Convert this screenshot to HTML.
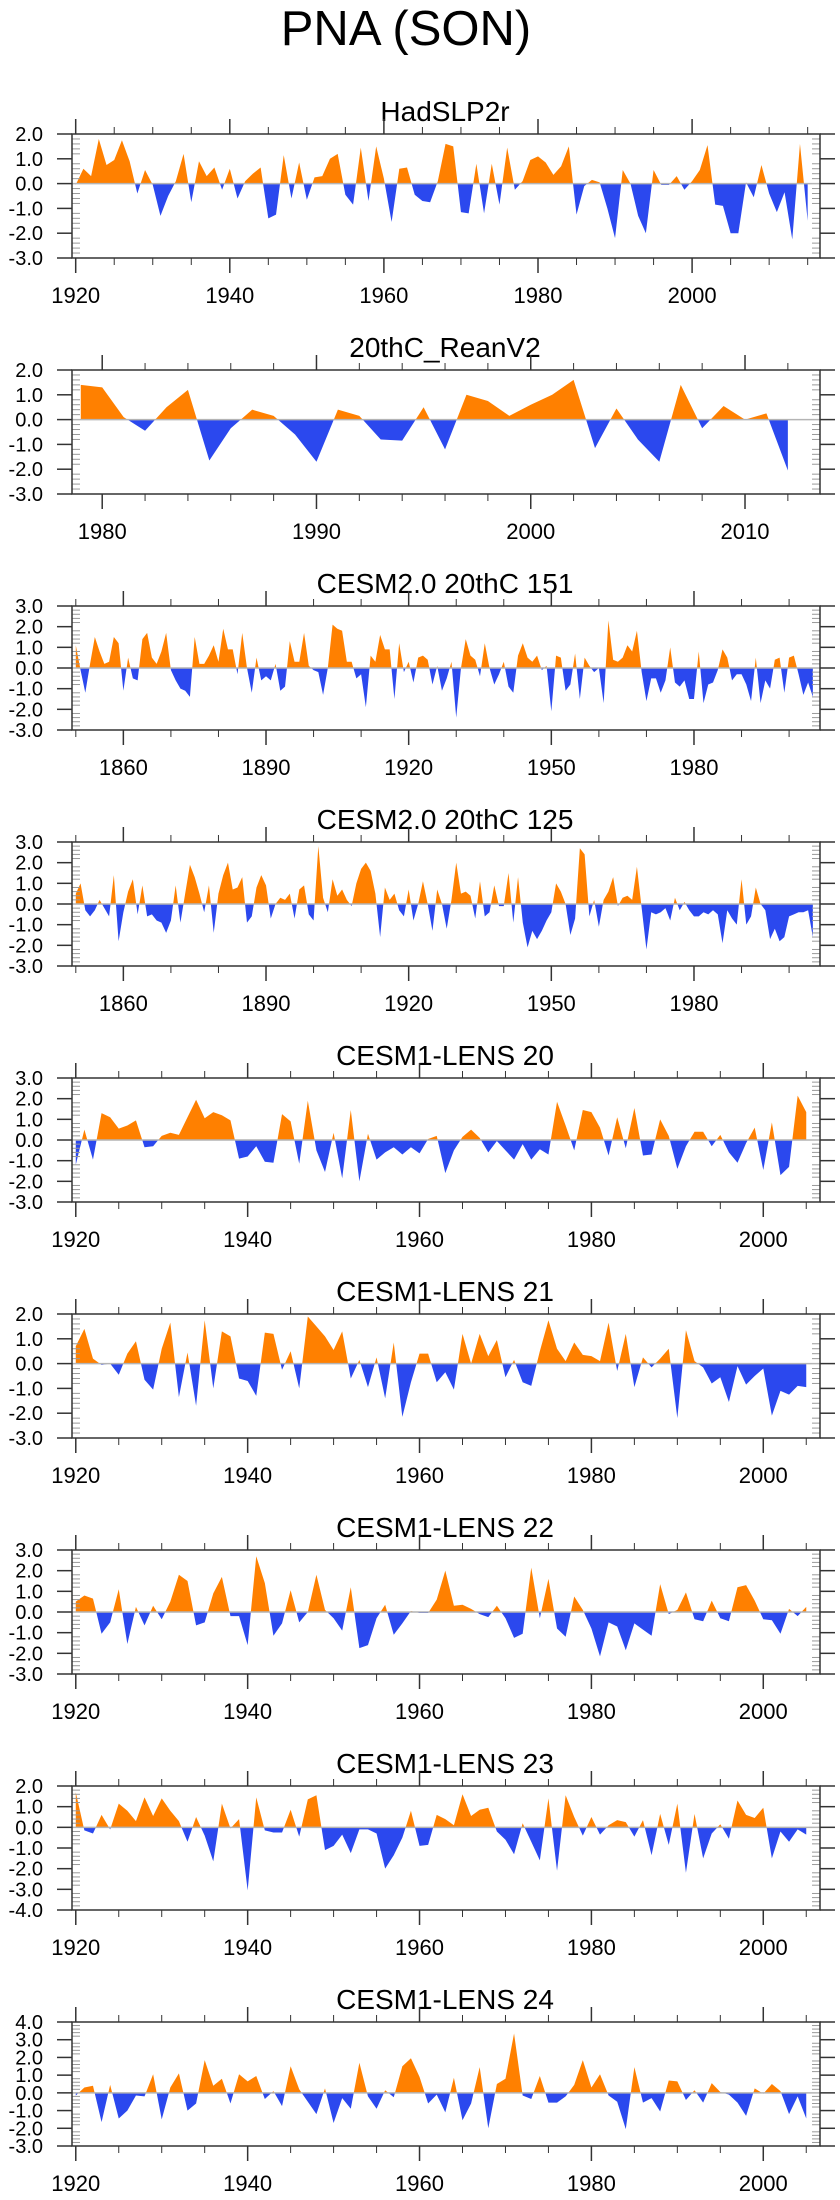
<!DOCTYPE html>
<html>
<head>
<meta charset="utf-8">
<style>
html,body{margin:0;padding:0;background:#fff;}
svg{display:block;font-family:"Liberation Sans",Arial,sans-serif;}
</style>
</head>
<body>
<svg id="fig" width="840" height="2200" viewBox="0 0 840 2200">
<text x="406" y="45" font-size="49" text-anchor="middle" fill="#000">PNA (SON)</text>
</svg>
<script>
// ---------- data ----------
const titles = ["HadSLP2r","20thC_ReanV2","CESM2.0 20thC 151","CESM2.0 20thC 125","CESM1-LENS 20","CESM1-LENS 21","CESM1-LENS 22","CESM1-LENS 23","CESM1-LENS 24"];
const startYears = [1920,1979,1850,1850,1920,1920,1920,1920,1920];
const yMax = [2,2,3,3,3,2,3,2,4];
const yMin = [-3,-3,-3,-3,-3,-3,-3,-4,-3];

const hadslp = [-0.05,0.6,0.3,1.8,0.75,0.95,1.75,0.9,-0.4,0.55,
-0.05,-1.3,-0.5,0.1,1.2,-0.75,0.9,0.3,0.65,-0.25,
0.6,-0.6,0.1,0.4,0.65,-1.4,-1.25,1.15,-0.6,0.85,
-0.65,0.25,0.3,1.0,1.2,-0.45,-0.85,1.45,-0.7,1.5,
0.2,-1.55,0.6,0.65,-0.45,-0.7,-0.75,0.1,1.6,1.5,
-1.15,-1.2,0.8,-1.2,0.8,-0.85,1.45,-0.25,0.1,0.95,
1.1,0.85,0.35,0.7,1.5,-1.25,-0.1,0.15,0.05,-1.0,
-2.2,0.55,0.0,-1.3,-2.0,0.55,-0.05,-0.05,0.3,-0.25,
0.1,0.55,1.55,-0.85,-0.9,-2.0,-2.0,0.05,-0.55,0.75,
-0.4,-1.15,-0.35,-2.25,1.6,-1.5];
const rean = [1.4,1.3,0.1,-0.45,0.5,1.2,-1.65,-0.35,0.4,0.15,
-0.6,-1.7,0.4,0.15,-0.8,-0.85,0.5,-1.2,1.0,0.75,
0.15,0.6,1.0,1.6,-1.15,0.45,-0.8,-1.7,1.4,-0.35,
0.55,0.0,0.25,-2.05];
const cesm151 = [1.1,-0.1,-1.2,0.2,1.5,0.8,0.2,0.3,1.5,1.2,
-1.1,0.5,-0.5,-0.6,1.4,1.7,0.5,0.2,0.8,1.7,
-0.1,-0.6,-1.0,-1.1,-1.4,1.5,0.2,0.2,0.6,1.1,
0.3,1.9,0.9,0.9,-0.3,1.7,0.0,-1.2,0.5,-0.6,
-0.4,-0.6,0.2,-1.1,-0.9,1.3,0.3,0.3,1.7,0.1,
-0.1,-0.2,-1.3,0.0,2.1,1.9,1.8,0.3,0.3,-0.5,
-0.3,-1.9,0.6,0.3,1.6,0.9,0.9,-1.5,1.2,-0.2,
0.3,-0.7,0.5,0.6,0.4,-0.8,0.1,-1.1,-0.5,0.3,
-2.4,0.0,1.4,0.6,0.4,-0.4,1.2,0.0,-0.8,-0.3,
0.3,-0.9,-1.2,0.6,1.2,0.5,0.3,0.6,-0.1,0.1,
-2.1,0.6,0.5,-1.1,-0.8,0.7,-1.5,0.5,0.1,-0.2,
0.0,-1.7,2.3,0.4,0.3,0.5,1.1,0.8,1.8,-0.2,
-1.6,-0.5,-0.5,-1.2,-0.6,1.0,-0.7,-0.9,-0.6,-1.5,
-1.5,0.8,-1.7,-0.8,-0.7,-0.1,0.9,0.5,-0.6,-0.3,
-0.3,-0.8,-1.6,0.5,-1.7,-0.6,-1.0,0.4,0.5,-1.2,
0.5,0.6,-0.3,-1.3,-0.7,-1.4];
const cesm125 = [0.5,1.0,-0.3,-0.6,-0.3,0.2,-0.2,-0.6,1.4,-1.8,
-0.4,0.6,1.2,-0.5,0.9,-0.6,-0.5,-0.8,-0.9,-1.4,
-0.8,0.9,-0.9,0.5,1.9,1.3,0.5,-0.4,0.9,-1.4,
0.5,1.4,2.0,0.7,0.8,1.3,-0.9,-0.6,0.8,1.4,
0.9,-0.7,0.0,0.3,0.2,0.5,-0.7,0.7,0.9,-0.5,
-0.8,2.8,0.3,-0.4,1.2,0.4,0.7,0.2,-0.1,1.0,
1.7,2.0,1.6,0.5,-1.6,0.8,0.2,0.5,-0.3,-0.6,
0.7,-0.8,0.0,1.1,0.0,-1.3,0.7,0.0,-1.2,0.2,
2.0,0.5,0.6,0.4,-0.7,1.1,-0.6,-0.4,0.9,-0.1,
-0.1,1.5,-0.9,1.3,-0.9,-2.1,-1.3,-1.7,-1.3,-0.8,
-0.4,1.0,0.6,0.0,-1.5,-0.7,2.7,2.4,-0.6,0.2,
-1.1,0.2,0.6,1.3,-0.1,0.3,0.4,0.2,1.8,-0.2,
-2.2,-0.4,-0.5,-0.4,-0.2,-0.8,0.3,-0.3,0.1,-0.3,
-0.6,-0.6,-0.4,-0.5,-0.3,-0.5,-1.9,-0.3,-0.7,-1.0,
1.2,-1.0,-0.6,0.8,0.0,-0.3,-1.7,-1.2,-1.8,-1.6,
-0.6,-0.5,-0.4,-0.4,-0.3,-1.6];
const lens20 = [-1.2,0.5,-0.95,1.3,1.1,0.55,0.7,0.95,-0.35,-0.3,
0.2,0.35,0.25,1.1,1.95,1.05,1.35,1.2,0.95,-0.9,
-0.8,-0.3,-1.05,-1.1,1.25,0.9,-1.15,1.9,-0.5,-1.55,
0.35,-1.85,1.45,-2.0,0.3,-0.95,-0.6,-0.35,-0.7,-0.35,
-0.65,0.05,0.2,-1.6,-0.5,0.15,0.5,0.1,-0.6,-0.05,
-0.5,-0.95,-0.2,-0.95,-0.45,-0.7,1.85,0.7,-0.5,1.45,
1.35,0.6,-0.75,1.1,-0.4,1.55,-0.75,-0.7,1.0,0.2,
-1.4,-0.3,0.4,0.4,-0.3,0.25,-0.6,-1.1,-0.15,0.6,
-1.45,0.85,-1.7,-1.3,2.15,1.35];
const lens21 = [0.7,1.4,0.2,-0.05,0.0,-0.45,0.4,0.9,-0.65,-1.05,
0.6,1.65,-1.35,0.45,-1.7,1.75,-1.0,1.3,1.1,-0.6,
-0.7,-1.3,1.25,1.2,-0.25,0.5,-1.0,1.9,1.5,1.1,
0.55,1.3,-0.6,0.15,-0.95,0.25,-1.4,0.85,-2.15,-0.75,
0.4,0.4,-0.75,-0.35,-1.05,1.2,0.0,1.2,0.3,0.95,
-0.55,0.15,-0.75,-0.9,0.5,1.75,0.6,0.1,0.85,0.35,
0.3,0.1,1.65,-0.3,1.2,-0.95,0.25,-0.15,0.2,0.6,
-2.2,1.35,0.1,-0.15,-0.8,-0.55,-1.55,-0.1,-0.85,-0.5,
-0.2,-2.1,-1.1,-1.25,-0.9,-0.95];
const lens22 = [0.5,0.8,0.65,-1.05,-0.5,1.1,-1.55,0.25,-0.65,0.3,
-0.35,0.5,1.8,1.5,-0.65,-0.5,0.9,1.7,-0.2,-0.2,
-1.6,2.7,1.4,-1.15,-0.55,1.05,-0.5,0.0,1.8,0.1,
-0.3,-0.9,1.2,-1.75,-1.6,-0.3,0.35,-1.1,-0.55,0.05,
-0.05,-0.05,0.6,2.0,0.3,0.35,0.15,-0.1,-0.25,0.3,
-0.3,-1.25,-1.05,2.15,-0.3,1.6,-0.8,-1.2,0.75,0.1,
-0.8,-2.15,-0.5,-0.7,-1.85,-0.55,-0.85,-1.15,1.35,-0.1,
0.1,0.95,-0.35,-0.45,0.55,-0.3,-0.45,1.2,1.3,0.55,
-0.35,-0.4,-1.05,0.15,-0.2,0.25];
const lens23 = [1.7,-0.15,-0.3,0.6,-0.1,1.15,0.8,0.3,1.45,0.55,
1.4,0.8,0.3,-0.7,0.5,-0.4,-1.65,1.15,-0.05,0.4,
-3.05,1.45,-0.15,-0.25,-0.25,0.85,-0.45,1.35,1.55,-1.1,
-0.9,-0.35,-1.25,-0.1,-0.1,-0.3,-2.0,-1.35,-0.5,0.8,
-0.9,-0.85,0.6,0.4,0.1,1.6,0.55,0.85,0.95,-0.2,
-0.6,-1.3,0.2,-0.7,-1.6,1.4,-2.1,1.55,0.5,-0.4,
0.5,-0.35,0.1,0.35,0.25,-0.45,0.35,-1.35,0.65,-0.85,
1.15,-2.2,0.65,-1.5,-0.3,0.15,-0.55,1.3,0.6,0.45,
0.95,-1.5,-0.2,-0.7,-0.1,-0.35];
const lens24 = [-0.15,0.3,0.4,-1.65,0.45,-1.45,-1.0,-0.15,-0.2,1.05,
-1.5,0.3,1.1,-1.0,-0.6,1.85,0.4,0.8,-0.6,1.05,
0.65,0.95,-0.35,0.1,-0.75,1.5,0.2,-0.5,-1.2,0.25,
-1.7,-0.3,-0.9,1.7,-0.2,-0.9,0.15,-0.25,1.5,1.95,
0.9,-0.6,-0.1,-1.1,0.85,-1.55,-0.6,1.45,-2.0,0.5,
0.8,3.35,-0.15,-0.35,0.95,-0.55,-0.55,-0.2,0.45,1.85,
0.3,1.05,-0.15,-0.5,-2.05,1.45,-0.55,-0.3,-1.05,0.7,
0.65,-0.4,0.15,-0.55,0.55,0.05,-0.1,-0.55,-1.3,0.25,
-0.05,0.5,0.1,-1.2,-0.2,-1.45];
const series = [hadslp,rean,cesm151,cesm125,lens20,lens21,lens22,lens23,lens24];

const majorTicks = [[1920,1940,1960,1980,2000],[1980,1990,2000,2010],[1860,1890,1920,1950,1980],[1860,1890,1920,1950,1980],
[1920,1940,1960,1980,2000],[1920,1940,1960,1980,2000],[1920,1940,1960,1980,2000],[1920,1940,1960,1980,2000],[1920,1940,1960,1980,2000]];
const minorStep = [5,2,10,10,5,5,5,5,5];
const xMinYear = [1919.52,1978.59,1849.2,1849.2,1919.56,1919.56,1919.56,1919.56,1919.56];
const xMaxYear = [2016.6,2013.5,2006.5,2006.5,2006.6,2006.6,2006.6,2006.6,2006.6];

// ---------- layout ----------
const BOX_L = 72, BOX_R = 820, BOX_H = 124, TOP0 = 134, GAP = 236;
const ORANGE = "#ff8000", BLUE = "#2b48ee";
const NS = "http://www.w3.org/2000/svg";
const svg = document.getElementById('fig');

function mk(tag, attrs, parent) {
  const e = document.createElementNS(NS, tag);
  for (const k in attrs) e.setAttribute(k, attrs[k]);
  (parent || svg).appendChild(e);
  return e;
}

for (let p = 0; p < titles.length; p++) {
  const top = TOP0 + GAP * p, bot = top + BOX_H;
  const g = mk('g', {});
  
  
  const xs = yr => BOX_L + (yr - xMinYear[p]) / (xMaxYear[p] - xMinYear[p]) * (BOX_R - BOX_L);
  const ys = v => top + (yMax[p] - v) / (yMax[p] - yMin[p]) * BOX_H;

  const t = mk('text', {x: 445, y: top - 13, 'font-size': 28, 'text-anchor': 'middle', fill: '#000'}, g);
  t.textContent = titles[p];
  
  

  const vals = series[p];
  const pts = [];
  for (let i = 0; i < vals.length; i++) {
    const yr = startYears[p] + i, v = vals[i];
    if (i > 0) {
      const pv = vals[i - 1];
      if ((pv > 0 && v < 0) || (pv < 0 && v > 0)) {
        const f = pv / (pv - v);
        pts.push([yr - 1 + f, 0]);
      }
    }
    pts.push([yr, v]);
  }
  const x0 = xs(pts[0][0]), x1 = xs(pts[pts.length - 1][0]), z = ys(0);
  let dPos = 'M' + x0 + ',' + z, dNeg = 'M' + x0 + ',' + z;
  for (const [yr, v] of pts) {
    dPos += 'L' + xs(yr).toFixed(2) + ',' + ys(Math.max(v, 0)).toFixed(2);
    dNeg += 'L' + xs(yr).toFixed(2) + ',' + ys(Math.min(v, 0)).toFixed(2);
  }
  dPos += 'L' + x1 + ',' + z + 'Z';
  dNeg += 'L' + x1 + ',' + z + 'Z';
  const fp = mk('path', {d: dPos, fill: ORANGE, stroke: 'none'}, g);
  
  
  const fn = mk('path', {d: dNeg, fill: BLUE, stroke: 'none'}, g);
  
  

  const zl = mk('line', {x1: BOX_L, x2: BOX_R, y1: z, y2: z, stroke: '#b4b4b4', 'stroke-width': 1.5}, g);
  
  

  for (let v = yMin[p]; v <= yMax[p] + 1e-9; v += 0.2) {
    const y = ys(v);
    const isMajor = Math.abs(v - Math.round(v)) < 1e-6;
    if (isMajor) {
      mk('line', {x1: BOX_L - 15, x2: BOX_L, y1: y, y2: y, stroke: '#333', 'stroke-width': 1.5}, g);
      mk('line', {x1: BOX_R, x2: BOX_R + 15, y1: y, y2: y, stroke: '#333', 'stroke-width': 1.5}, g);
      const lb = mk('text', {x: 43, y: y + 7, 'font-size': 20, 'text-anchor': 'end', fill: '#000'}, g);
      lb.textContent = Math.round(v).toFixed(1);
      
      
    } else {
      mk('line', {x1: BOX_L, x2: BOX_L + 8, y1: y, y2: y, stroke: '#999', 'stroke-width': 1}, g);
      mk('line', {x1: BOX_R - 8, x2: BOX_R, y1: y, y2: y, stroke: '#999', 'stroke-width': 1}, g);
    }
  }

  const yStart = Math.ceil(xMinYear[p] / minorStep[p]) * minorStep[p];
  for (let yr = yStart; yr <= xMaxYear[p]; yr += minorStep[p]) {
    const x = xs(yr);
    const isMajor = majorTicks[p].indexOf(yr) >= 0;
    const L = isMajor ? 15 : 7;
    mk('line', {x1: x, x2: x, y1: bot, y2: bot + L, stroke: '#333', 'stroke-width': isMajor ? 1.5 : 1}, g);
    mk('line', {x1: x, x2: x, y1: top - L, y2: top, stroke: '#333', 'stroke-width': isMajor ? 1.5 : 1}, g);
    if (isMajor) {
      const lb = mk('text', {x: x, y: bot + 45, 'font-size': 22, 'text-anchor': 'middle', fill: '#000'}, g);
      lb.textContent = String(yr);
      
      
    }
  }

  const bx = mk('rect', {x: BOX_L, y: top, width: BOX_R - BOX_L, height: BOX_H, fill: 'none', stroke: '#333', 'stroke-width': 1.5}, g);
  
  
}
</script>
</body>
</html>
